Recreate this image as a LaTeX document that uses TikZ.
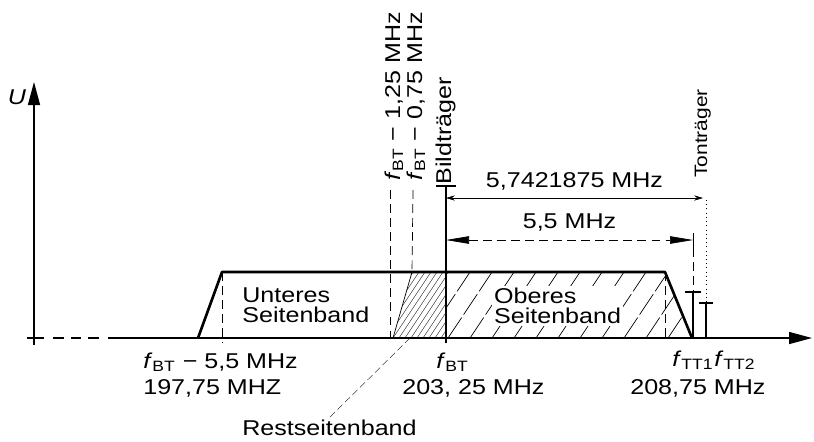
\documentclass[tikz,border=0pt]{standalone}
\usepackage{fontspec}
\setmainfont{Liberation Sans}[FakeStretch=1.17]
\usetikzlibrary{arrows.meta}
\newcommand{\fBT}{\textit{f}\textsubscript{BT}}
\newcommand{\fTT}[1]{\textit{f}\textsubscript{TT#1}}
\begin{document}
\begin{tikzpicture}[x=.02cm, y=-.02cm, >={Triangle[length=.46cm,width=.24cm]},
 txt/.style={font=\fontsize{12.2}{11.4}\selectfont, inner sep=0pt},
 up/.style={txt, rotate=90, anchor=base west},
 axis/.style={line width=.8pt},
 band/.style={line width=1.5pt, line join=round},
 carrier/.style={line width=1.6pt},
 aux/.style={thin, dash pattern=on 5pt off 3pt},
 hatch/.style={thin, dash pattern=on 14pt off 2pt},
 wedge/.style={{Triangle[length=.46cm,width=.15cm]}-{Triangle[length=.46cm,width=.15cm]}},
 small/.style={{Stealth[length=5pt,width=3pt]}-{Stealth[length=5pt,width=3pt]}}]
\useasboundingbox (0,0) rectangle (814,441);
\coordinate (ybot) at (34,345);
\coordinate (ytop) at (34,82);
\coordinate (xl) at (27,338);
\coordinate (xs) at (108,338);
\coordinate (xe) at (812,338);
\draw[axis,->] (ybot) -- (ytop);
\node[txt] (U) at (17,97) {\itshape U};
\draw[axis] (xl) -- (44,338);
\draw[axis, dash pattern=on 6pt off 4pt] (53,338) -- (100,338);
\draw[axis,->] (xs) -- (xe);
\coordinate (u1) at (198,338);
\coordinate (u2) at (222,272);
\coordinate (o2) at (665,272);
\coordinate (o1) at (692,338);
\coordinate (r1) at (393,338);
\coordinate (r2) at (412,272);
\coordinate (BT) at (446,338);
\coordinate (BTm) at (446,272);
\coordinate (BTtop) at (446,186);
\begin{scope}
\clip (r1) -- (r2) -- (BTm) -- (BT) -- cycle;
\foreach \i in {0,6,...,102} \draw[very thin] (345+\i,338) -- ++(44,-66);
\end{scope}
\begin{scope}
\clip (BT) -- (BTm) -- (o2) -- (o1) -- cycle;
\foreach \i in {0,...,13} \draw[hatch] (404+22*\i,338) -- ++(44,-66);
\end{scope}
\draw[thin] (r1) -- (r2);
\draw[band] (u1) -- (u2) -- (o2) -- (o1);
\draw[aux] (u2) -- (222,343);
\draw[aux] (390,190) -- (390,344);
\draw[aux] (413,190) -- (r2);
\draw[aux] (o2) -- (665,338);
\draw[carrier] (446,343) -- (BTtop) ++(-10,0) -- ++(20,0);
\coordinate (TT1) at (693,338);
\coordinate (TT1t) at (693,292);
\coordinate (TT2) at (706,338);
\coordinate (TT2t) at (706,303);
\draw[carrier] (TT1) -- (TT1t) ++(-8,0) -- ++(16,0);
\draw[carrier] (TT2) -- (TT2t) ++(-7,0) -- ++(14,0);
\coordinate (d1l) at (446,198);
\coordinate (d1r) at (703,198);
\coordinate (d2l) at (446,240);
\coordinate (d2r) at (693,240);
\draw[small, thin] (d1l) -- (d1r) node[txt, midway, above=4pt] (dim1) {5,7421875 MHz};
\draw[wedge, aux] (d2l) -- (d2r) node[txt, midway, above=5pt] (dim2) {5,5 MHz};
\draw[thin] (693,233) -- (693,248);
\draw[aux] (693,248) -- (TT1t);
\draw[thin, dotted] (706,200) -- (TT2t);
\node[up] (lo) at (400,181) {\fBT{} − 1,25 MHz};
\node[up] (ro) at (422,181) {\fBT{} − 0,75 MHz};
\node[up] (bild) at (451,185) {Bildträger};
\node[up, font=\fontsize{10.2}{11}\selectfont] (ton) at (707,178) {Tonträger};
\node[txt, align=left, anchor=north west] (usb) at (242,287) {Unteres\\Seitenband};
\node[txt, align=left, anchor=north west, fill=white, inner sep=1pt] (osb) at (492,286) {Oberes\\Seitenband};
\node[txt, anchor=base west] (fl) at (143,368) {\fBT{} − 5,5 MHz};
\node[txt, anchor=base west] (fl2) at (143,394) {197,75 MHZ};
\node[txt, anchor=base west] (fm) at (436,368) {\fBT};
\node[txt, anchor=base west] (fm2) at (402,394) {203, 25 MHz};
\node[txt, anchor=base west] (ft1) at (672,366) {\fTT1};
\node[txt, anchor=base west] (ft2) at (714,366) {\fTT2};
\node[txt, anchor=base west] (fr2) at (630,394) {208,75 MHz};
\node[txt, anchor=base west] (rest) at (242,435) {Restseitenband};
\coordinate (rl) at (330,417);
\draw[very thin, dash pattern=on 4pt off 2pt] (rl) -- (410,338);
\end{tikzpicture}
\end{document}
